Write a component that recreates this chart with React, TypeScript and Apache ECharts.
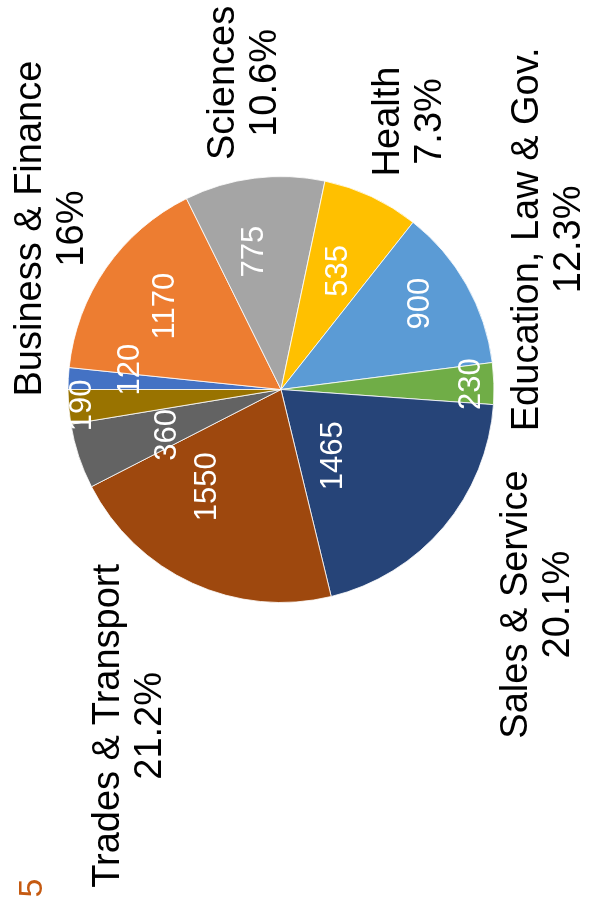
import React, { useEffect, useRef } from "react";
import * as echarts from "echarts";

// ---- data ----
const categories = [
  "",
  "Business & Finance",
  "Sciences",
  "Health",
  "Education, Law & Gov.",
  "",
  "Sales & Service",
  "Trades & Transport",
  "",
  "",
];
const values = [120, 1170, 775, 535, 900, 230, 1465, 1550, 360, 190];
const colors = [
  "#4472C4",
  "#ED7D31",
  "#A5A5A5",
  "#FFC000",
  "#5B9BD5",
  "#70AD47",
  "#264478",
  "#9E480E",
  "#636363",
  "#997300",
];
const showCategoryLabel = [false, true, true, true, true, false, true, true, false, false];
const cornerNote = "5";

// ---- layout (unrotated frame: 901 x 592, then rotated -90deg) ----
const W = 901;
const H = 592;
const CX = 511.5;
const CY = 281;
const R = 213;
const FONT = "'Liberation Sans', Arial, sans-serif";
// radial distance of each value label; "out" = placed via outside label mode (small slices)
const valueLabelRadius = [153, 146, 146, 131, 158, 189, 95, 119, 119, 201];
const valueLabelMode = ["out", "in", "in", "in", "in", "in", "in", "in", "in", "out"];
const valueLabelShift = [-14, 0, 0, 0, 0, 0, 0, 0, 0, -26.5];
const valueLabelNudge = [
  [0, 0],
  [0, 2],
  [-7, -10],
  [0, 0],
  [8, 0],
  [0, 0],
  [-5, -22],
  [11, -26],
  [-8, -2],
  [0, 0],
];
const categoryLabelRadius = [0, 282, 309, 296, 305, 0, 333, 370, 0, 0];

const total = values.reduce((a, b) => a + b, 0);
const pct = (v: number) => `${Math.round((v / total) * 1000) / 10}%`;

function labelData(idx: number) {
  return values.map((v, j) => ({
    name: categories[j],
    value: v,
    label: { show: j === idx },
  }));
}

const hiddenPieBase = {
  type: "pie",
  center: [CX, CY],
  startAngle: 90,
  clockwise: true,
  silent: true,
  z: 5,
  avoidLabelOverlap: false,
  emphasis: { disabled: true },
  itemStyle: { color: "rgba(0,0,0,0)", borderWidth: 0 },
};

function insideLabelSeries(idx: number, rho: number, kind: "value" | "cat", nudge: number[]) {
  return {
    ...hiddenPieBase,
    radius: [0, 2 * (rho - 3)],
    labelLine: { show: false },
    labelLayout: { hideOverlap: false, moveOverlap: null, dx: nudge[0], dy: nudge[1] },
    label: {
      show: false,
      position: "inside",
      fontFamily: FONT,
      color: kind === "value" ? "#ffffff" : "#000000",
      fontSize: kind === "value" ? 31 : 38,
      lineHeight: kind === "value" ? 36 : 42,
      formatter: (p: any) =>
        kind === "value" ? String(p.value) : `${p.name}\n${pct(p.value)}`,
    },
    data: labelData(idx),
  };
}

function outsideValueSeries(idx: number, rho: number, shift: number) {
  return {
    ...hiddenPieBase,
    radius: [0, rho],
    labelLine: { show: false, length: 0, length2: 0 },
    labelLayout: { hideOverlap: false, moveOverlap: null },
    label: {
      show: false,
      position: "outside",
      alignTo: "none",
      distanceToLabelLine: shift,
      fontFamily: FONT,
      color: "#ffffff",
      fontSize: 31,
      lineHeight: 36,
      formatter: (p: any) => String(p.value),
    },
    data: labelData(idx),
  };
}

export default function App() {
  const ref = useRef<HTMLDivElement>(null);
  useEffect(() => {
    if (!ref.current) return;
    const chart = echarts.init(ref.current, undefined, {
      renderer: "svg",
      width: W,
      height: H,
    });
    const series: any[] = [
      {
        type: "pie",
        center: [CX, CY],
        radius: [0, R],
        startAngle: 90,
        clockwise: true,
        silent: true,
        emphasis: { disabled: true },
        label: { show: false },
        labelLine: { show: false },
        itemStyle: { borderColor: "#ffffff", borderWidth: 0.8 },
        data: values.map((v, i) => ({
          name: categories[i],
          value: v,
          itemStyle: { color: colors[i] },
        })),
      },
    ];
    values.forEach((_, i) => {
      if (valueLabelMode[i] === "out") {
        series.push(outsideValueSeries(i, valueLabelRadius[i], valueLabelShift[i]));
      } else {
        series.push(insideLabelSeries(i, valueLabelRadius[i], "value", valueLabelNudge[i]));
      }
    });
    values.forEach((_, i) => {
      if (showCategoryLabel[i])
        series.push(insideLabelSeries(i, categoryLabelRadius[i], "cat", [0, 0]));
    });
    chart.setOption({
      animation: false,
      backgroundColor: "#ffffff",
      series,
      graphic: [
        {
          type: "text",
          x: 22.5,
          y: 30,
          style: {
            text: cornerNote,
            fill: "#C55A11",
            font: `34px ${FONT}`,
            textAlign: "right",
            textVerticalAlign: "middle",
          },
        },
      ],
    });
    return () => chart.dispose();
  }, []);
  return (
    <div
      style={{
        position: "fixed",
        left: 0,
        top: 0,
        width: W,
        height: H,
        transformOrigin: "0 0",
        transform: `translate(0px, ${W}px) rotate(-90deg)`,
        background: "#ffffff",
      }}
    >
      <div ref={ref} style={{ width: W, height: H }} />
    </div>
  );
}
